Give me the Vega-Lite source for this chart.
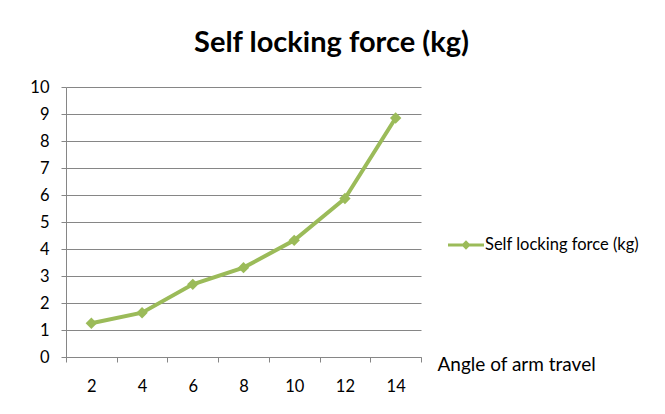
{
  "$schema": "https://vega.github.io/schema/vega-lite/v6.json",
  "width": 355,
  "height": 270,
  "autosize": {"type": "none"},
  "padding": {"left": 66, "top": 87, "right": 244, "bottom": 57},
  "background": "white",
  "title": {
    "text": "Self locking force (kg)",
    "font": "Lato",
    "fontSize": 29,
    "fontWeight": "bold",
    "color": "#000000",
    "anchor": "middle",
    "frame": "group",
    "baseline": "alphabetic",
    "dx": 88,
    "offset": -2
  },
  "data": {
    "values": [
      {"angle": 2, "force": 1.25},
      {"angle": 4, "force": 1.64},
      {"angle": 6, "force": 2.69},
      {"angle": 8, "force": 3.31},
      {"angle": 10, "force": 4.32},
      {"angle": 12, "force": 5.87},
      {"angle": 14, "force": 8.85}
    ]
  },
  "encoding": {
    "x": {
      "field": "angle",
      "type": "quantitative",
      "scale": {"domain": [1, 15], "nice": false, "zero": false},
      "axis": {
        "values": [1, 3, 5, 7, 9, 11, 13, 15],
        "labelExpr": "datum.value < 15 ? format(datum.value + 1, 'd') : ''",
        "labelOffset": 25.36,
        "labelFlush": false,
        "labelOverlap": false,
        "labelBound": false,
        "grid": false,
        "tickSize": 5,
        "labelPadding": 16,
        "labelBaseline": "top",
        "labelAlign": "center",
        "title": "Angle of arm travel",
        "titleX": 371,
        "titleY": 7,
        "titleAlign": "left",
        "titleBaseline": "middle",
        "titleFont": "Lato",
        "titleFontSize": 19,
        "titleFontWeight": "normal",
        "titleColor": "#000000"
      }
    },
    "y": {
      "field": "force",
      "type": "quantitative",
      "scale": {"domain": [0, 10], "nice": false},
      "axis": {
        "values": [0, 1, 2, 3, 4, 5, 6, 7, 8, 9, 10],
        "grid": true,
        "tickSize": 5,
        "labelPadding": 12,
        "title": null
      }
    }
  },
  "layer": [
    {
      "mark": {"type": "line", "color": "#9BBB59", "strokeWidth": 4}
    },
    {
      "mark": {"type": "point", "shape": "diamond", "filled": true, "size": 130, "opacity": 1},
      "encoding": {
        "color": {
          "datum": "Self locking force (kg)",
          "scale": {"range": ["#9BBB59"]},
          "legend": {
            "orient": "none",
            "legendX": 381,
            "legendY": 139,
            "title": null,
            "padding": 0,
            "labelFont": "Lato",
            "labelFontSize": 16.5,
            "labelColor": "#000000",
            "labelOffset": 0,
            "symbolSize": 1296,
            "symbolType": "M-1,-0.08L1,-0.08L1,0.08L-1,0.08ZM0,-0.26L0.26,0L0,0.26L-0.26,0Z",
            "encode": {
              "symbols": {
                "update": {
                  "shape": {"value": "M-1,-0.08L1,-0.08L1,0.08L-1,0.08ZM0,-0.26L0.26,0L0,0.26L-0.26,0Z"},
                  "size": {"value": 1296},
                  "fill": {"value": "#9BBB59"},
                  "opacity": {"value": 1}
                }
              }
            }
          }
        }
      }
    }
  ],
  "config": {
    "view": {"stroke": null},
    "axis": {
      "gridColor": "#868686",
      "gridOpacity": 1,
      "domainColor": "#868686",
      "tickColor": "#868686",
      "labelFont": "Lato",
      "labelFontSize": 16.5,
      "labelColor": "#000000"
    }
  }
}
